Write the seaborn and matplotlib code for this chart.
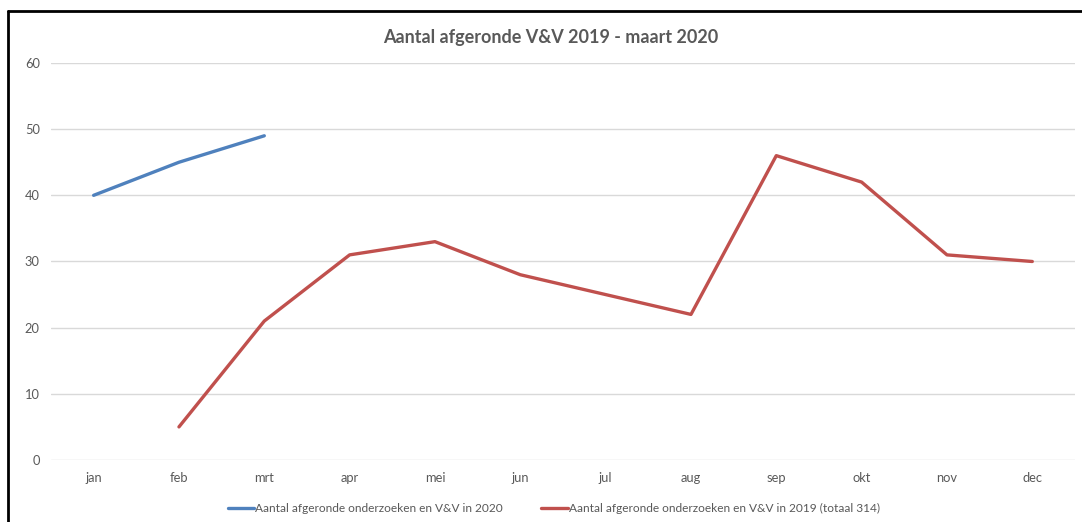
import numpy as np
import pandas as pd
import matplotlib.pyplot as plt
import seaborn as sns

months = ['jan', 'feb', 'mrt', 'apr', 'mei', 'jun', 'jul', 'aug', 'sep', 'okt', 'nov', 'dec']
v2020 = [40, 45, 49]
v2019 = [np.nan, 5, 21, 31, 33, 28, 25, 22, 46, 42, 31, 30]
label2020 = 'Aantal afgeronde onderzoeken en V&V in 2020'
label2019 = 'Aantal afgeronde onderzoeken en V&V in 2019 (totaal 314)'

df = pd.DataFrame({
    'pos': list(range(len(v2020))) + list(range(len(months))),
    'waarde': v2020 + v2019,
    'reeks': [label2020] * len(v2020) + [label2019] * len(months),
})

sns.set_style('white')
plt.rcParams['font.family'] = ['Lato', 'DejaVu Sans']
grey = '#595959'

fig = plt.figure(figsize=(10.82, 5.22), dpi=100)
ax = fig.add_axes([0.0471, 0.1188, 0.9464, 0.7605])

sns.lineplot(data=df.dropna(), x='pos', y='waarde', hue='reeks',
             palette=['#4F81BD', '#C0504D'], linewidth=2.4, ax=ax, legend=True)

ax.set_xlim(-0.5, 11.5)
ax.set_ylim(0, 60)
ax.set_yticks(range(0, 61, 10))
ax.set_xticks(range(len(months)))
ax.set_xticklabels(months)
ax.set_xlabel('')
ax.set_ylabel('')
ax.tick_params(axis='both', length=0, colors=grey, labelsize=9.3, pad=9)
ax.tick_params(axis='y', pad=8)
ax.grid(axis='y', color='#D9D9D9', linewidth=1)
for s in ax.spines.values():
    s.set_visible(False)

fig.text(551 / 1082, 1 - 38 / 522, 'Aantal afgeronde V&V 2019 - maart 2020', fontsize=13,
         fontweight='bold', color=grey, ha='center', va='center')

handles, labels = ax.get_legend_handles_labels()
ax.legend(handles, labels, loc='center', bbox_to_anchor=(0.512, 0.025), bbox_transform=fig.transFigure,
          ncol=2, frameon=False, fontsize=8.6, handlelength=2.2, handletextpad=0.1,
          columnspacing=3.2, labelcolor=grey)

# black frame (top and left edges visible)
fig.add_artist(plt.Line2D([8 / 1082, 1.0], [1 - 11 / 522, 1 - 11 / 522], color='black', linewidth=2,
                          transform=fig.transFigure))
fig.add_artist(plt.Line2D([8 / 1082, 8 / 1082], [0, 1 - 11 / 522], color='black', linewidth=2,
                          transform=fig.transFigure))

fig.savefig('out.png', dpi=100)
